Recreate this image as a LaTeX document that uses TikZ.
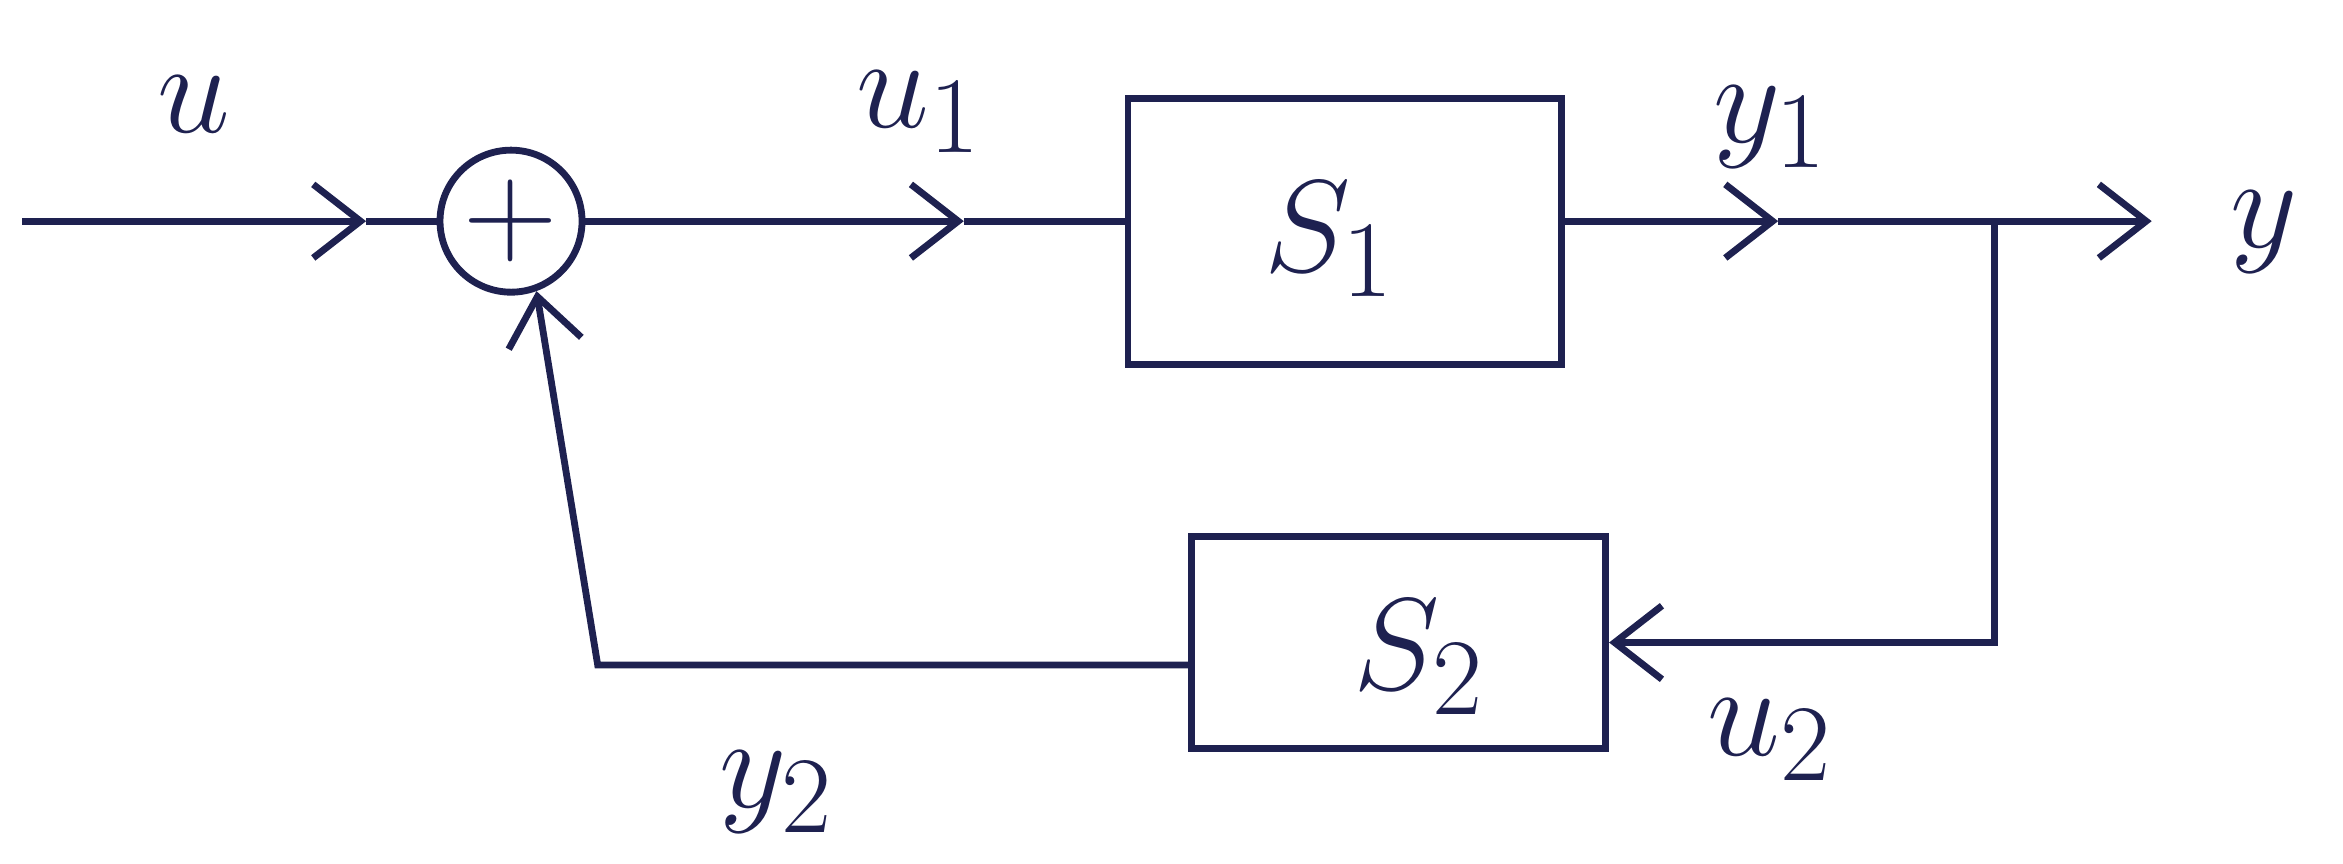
\documentclass[tikz,border=0pt]{standalone}
\usetikzlibrary{arrows.meta}
\definecolor{ink}{HTML}{1E2150}
\begin{document}
\begin{tikzpicture}[x=0.01cm, y=-0.01cm,
    inkline/.style={draw=ink, line width=1.3pt},
    sig/.style={inkline, -{Straight Barb[length=9pt,width=14pt,line width=1.3pt]}},
    block/.style={inkline, rectangle, inner sep=0pt},
    sumnode/.style={inkline, circle, minimum size=0.95cm, inner sep=0pt, text=ink,
      font=\fontsize{30}{34}\selectfont},
    lbl/.style={text=ink, font=\fontsize{28}{32}\selectfont}
]
  \useasboundingbox (0,0) rectangle (1568,578);

  % Bloki
  \node[sumnode] (sum) at (342,148) {$+$};
  \node[block, minimum width=2.9cm, minimum height=1.78cm] (S1) at (900,155) {};
  \node[block, minimum width=2.77cm, minimum height=1.42cm] (S2) at (936,430) {};
  \node[lbl] (S1txt) at (890,160) {$S_1$};
  \node[lbl] (S2txt) at (950,440) {$S_2$};

  % Tochky
  \coordinate (in)  at (15,148);
  \coordinate (m1)  at (245,148);
  \coordinate (m2)  at (645,148);
  \coordinate (m3)  at (1190,148);
  \coordinate (br)  at (1335,148);
  \coordinate (out) at (1440,148);
  \coordinate (fb)  at (400,445);

  % Priama hilka
  \draw[sig] (in) -- (m1);
  \draw[inkline] (m1) -- (sum);
  \draw[sig] (sum) -- (m2);
  \draw[inkline] (m2) -- (S1.west |- m2);
  \draw[sig] (S1.east |- m3) -- (m3);
  \draw[inkline] (m3) -- (br);
  \draw[sig] (br) -- (out);

  % Zvorotnyi zv'iazok
  \draw[sig] (br) |- (S2.east);
  \draw[sig] (S2.west |- fb) -- (fb) -- (sum.-70);

  % Pidpysy
  \node[lbl] (lu)  at (130,70)  {$u$};
  \node[lbl] (lu1) at (615,75)  {$u_1$};
  \node[lbl] (ly1) at (1185,85) {$y_1$};
  \node[lbl] (ly)  at (1515,155) {$y$};
  \node[lbl] (lu2) at (1185,495) {$u_2$};
  \node[lbl] (ly2) at (520,530) {$y_2$};

\end{tikzpicture}
\end{document}
